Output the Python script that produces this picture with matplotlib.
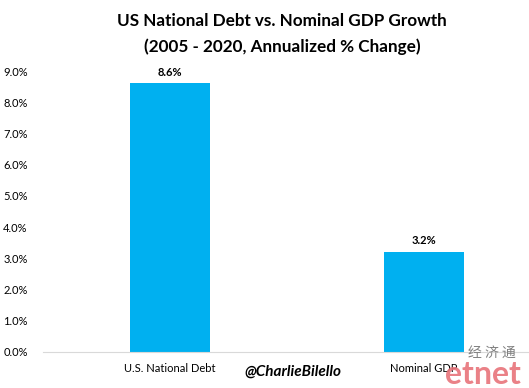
import matplotlib.pyplot as plt
from matplotlib.ticker import FuncFormatter

categories = ["U.S. National Debt", "Nominal GDP"]
values = [8.6, 3.2]
labels = ["8.6%", "3.2%"]
yticks = [0, 1, 2, 3, 4, 5, 6, 7, 8, 9]

plt.rcParams['font.family'] = ['Lato', 'DejaVu Sans']

fig = plt.figure(figsize=(5.29, 3.88), dpi=100)
ax = fig.add_axes([0.0813, 0.0928, 0.9187, 0.7242])

x = list(range(len(categories)))
ax.bar(x, values, width=0.315, color="#00B0F0", zorder=2)
for xi, v, lab in zip(x, values, labels):
    ax.text(xi, v + 0.18, lab, ha="center", va="bottom", fontsize=8, fontweight="bold")

ax.set_xlim(-0.5, 1.413)
ax.set_ylim(0, 9)
ax.set_yticks(yticks)
ax.yaxis.set_major_formatter(FuncFormatter(lambda v, p: f"{v:.1f}%"))
ax.set_xticks(x)
ax.set_xticklabels(categories)
ax.tick_params(axis="both", length=0, labelsize=8)
ax.tick_params(axis="y", pad=11)
ax.tick_params(axis="x", pad=8)

for s in ["top", "right", "left"]:
    ax.spines[s].set_visible(False)
ax.spines["bottom"].set_color("#D9D9D9")

# title, two lines
fig.text(0.533, 0.912, "US National Debt vs. Nominal GDP Growth\n(2005 - 2020, Annualized % Change)",
         ha="center", va="center", fontsize=12.3, fontweight="bold", linespacing=1.7)

# watermarks
fig.text(0.554, 0.041, "@CharlieBilello", ha="center", va="center", fontsize=11,
         style="italic", fontweight="bold")
fig.text(0.975, 0.09, "经 济 通", ha="right", va="center", fontsize=10, color="#808080",
         family=['Noto Sans CJK SC', 'DejaVu Sans'])
fig.text(0.985, 0.035, "etnet", ha="right", va="center", fontsize=23, color="#E8737A",
         fontweight="bold", alpha=0.9)

fig.savefig("out.png", dpi=100)
